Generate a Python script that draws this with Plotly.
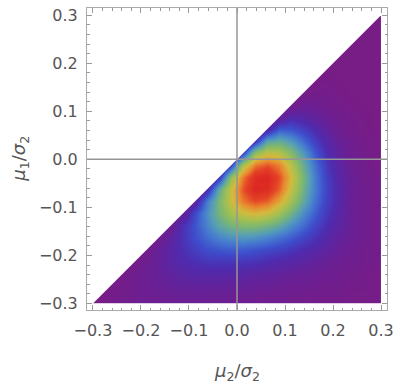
import plotly.graph_objects as go

# ── Data ──────────────────────────────────────────────────────────────────────
# cell edges of the density grid (mu2/sigma2 across, mu1/sigma2 up)
MU2_EDGES = [-0.3, -0.275, -0.25, -0.225, -0.2, -0.175, -0.15, -0.125, -0.1,
             -0.075, -0.05, -0.025, 0.0, 0.025, 0.05, 0.075, 0.1, 0.125,
             0.15, 0.175, 0.2, 0.225, 0.25, 0.275, 0.3]
MU1_EDGES = list(MU2_EDGES)

# density in % of the peak, one row per mu1 cell (bottom row first);
# zero above the diagonal mu1 = mu2
DENSITY = [
    [0, 2, 3, 4, 5, 5, 6, 6, 6, 6, 6, 5, 5, 5, 4, 4, 3, 3, 2, 2, 2, 1, 1, 1],
    [0, 1, 2, 4, 5, 7, 8, 9, 9, 9, 9, 8, 8, 7, 7, 6, 5, 5, 4, 3, 3, 2, 2, 1],
    [0, 0, 1, 4, 6, 8, 10, 12, 13, 13, 13, 13, 12, 11, 10, 9, 8, 7, 6, 5, 4, 3, 2, 1],
    [0, 0, 0, 1, 5, 8, 12, 15, 17, 19, 19, 19, 19, 18, 16, 14, 13, 11, 9, 7, 5, 4, 3, 2],
    [0, 0, 0, 0, 2, 8, 12, 17, 21, 25, 27, 28, 28, 26, 24, 22, 19, 16, 13, 10, 7, 5, 3, 2],
    [0, 0, 0, 0, 0, 3, 11, 18, 25, 31, 36, 39, 40, 39, 36, 32, 28, 23, 18, 13, 9, 6, 4, 2],
    [0, 0, 0, 0, 0, 0, 5, 17, 26, 36, 45, 51, 54, 54, 51, 46, 38, 31, 23, 16, 11, 7, 4, 2],
    [0, 0, 0, 0, 0, 0, 0, 7, 24, 38, 51, 62, 69, 72, 69, 61, 50, 38, 28, 19, 12, 7, 4, 2],
    [0, 0, 0, 0, 0, 0, 0, 0, 10, 34, 52, 69, 82, 88, 85, 75, 61, 46, 32, 21, 13, 7, 4, 2],
    [0, 0, 0, 0, 0, 0, 0, 0, 0, 14, 46, 69, 87, 98, 96, 85, 68, 50, 34, 22, 13, 7, 4, 2],
    [0, 0, 0, 0, 0, 0, 0, 0, 0, 0, 18, 58, 82, 96, 98, 88, 71, 52, 34, 21, 12, 7, 3, 2],
    [0, 0, 0, 0, 0, 0, 0, 0, 0, 0, 0, 22, 64, 82, 87, 81, 66, 48, 32, 19, 11, 6, 3, 1],
    [0, 0, 0, 0, 0, 0, 0, 0, 0, 0, 0, 0, 22, 58, 68, 66, 55, 41, 27, 16, 9, 5, 2, 1],
    [0, 0, 0, 0, 0, 0, 0, 0, 0, 0, 0, 0, 0, 18, 44, 47, 41, 31, 21, 13, 7, 4, 2, 1],
    [0, 0, 0, 0, 0, 0, 0, 0, 0, 0, 0, 0, 0, 0, 12, 27, 26, 21, 15, 9, 5, 2, 1, 0],
    [0, 0, 0, 0, 0, 0, 0, 0, 0, 0, 0, 0, 0, 0, 0, 7, 14, 12, 9, 6, 3, 2, 1, 0],
    [0, 0, 0, 0, 0, 0, 0, 0, 0, 0, 0, 0, 0, 0, 0, 0, 3, 6, 5, 3, 2, 1, 0, 0],
    [0, 0, 0, 0, 0, 0, 0, 0, 0, 0, 0, 0, 0, 0, 0, 0, 0, 1, 2, 2, 1, 0, 0, 0],
    [0, 0, 0, 0, 0, 0, 0, 0, 0, 0, 0, 0, 0, 0, 0, 0, 0, 0, 0, 1, 0, 0, 0, 0],
    [0, 0, 0, 0, 0, 0, 0, 0, 0, 0, 0, 0, 0, 0, 0, 0, 0, 0, 0, 0, 0, 0, 0, 0],
    [0, 0, 0, 0, 0, 0, 0, 0, 0, 0, 0, 0, 0, 0, 0, 0, 0, 0, 0, 0, 0, 0, 0, 0],
    [0, 0, 0, 0, 0, 0, 0, 0, 0, 0, 0, 0, 0, 0, 0, 0, 0, 0, 0, 0, 0, 0, 0, 0],
    [0, 0, 0, 0, 0, 0, 0, 0, 0, 0, 0, 0, 0, 0, 0, 0, 0, 0, 0, 0, 0, 0, 0, 0],
    [0, 0, 0, 0, 0, 0, 0, 0, 0, 0, 0, 0, 0, 0, 0, 0, 0, 0, 0, 0, 0, 0, 0, 0],
]

TICK_VALUES = [-0.3, -0.2, -0.1, 0.0, 0.1, 0.2, 0.3]
TICK_LABELS = ["\u22120.3", "\u22120.2", "\u22120.1", "0.0", "0.1", "0.2", "0.3"]

# ── Style ─────────────────────────────────────────────────────────────────────
RAINBOW = [
    [0.00, "rgb(120,28,134)"],
    [0.07, "rgb(104,32,150)"],
    [0.16, "rgb(78,44,176)"],
    [0.25, "rgb(62,78,204)"],
    [0.34, "rgb(70,124,208)"],
    [0.42, "rgb(86,158,182)"],
    [0.52, "rgb(122,182,116)"],
    [0.62, "rgb(166,192,80)"],
    [0.71, "rgb(212,186,62)"],
    [0.80, "rgb(234,136,48)"],
    [0.89, "rgb(228,66,38)"],
    [1.00, "rgb(218,33,33)"],
]
TICK_COLOR = "#9a9a9a"
FRAME_COLOR = "#aaaaaa"
LABEL_COLOR = "#555555"
AXIS_LINE = "rgb(150,150,150)"
FONT = "DejaVu Sans"

lo, hi = MU2_EDGES[0], MU2_EDGES[-1]
bleed = 0.002   # mask slightly past the grid so no edge pixels leak through

fig = go.Figure(go.Heatmap(
    x=MU2_EDGES, y=MU1_EDGES, z=DENSITY,
    zmin=0, zmax=100, zsmooth="best",
    colorscale=RAINBOW, showscale=False, hoverinfo="skip",
))

# region mu1 > mu2 is left blank
fig.add_shape(
    type="path",
    path=(f"M {lo},{lo} L {hi},{hi} L {hi},{hi + bleed} "
          f"L {lo - bleed},{hi + bleed} L {lo - bleed},{lo} Z"),
    xref="x", yref="y", fillcolor="white", line=dict(width=0), layer="above",
)
# axes through the origin
fig.add_shape(type="line", x0=0, x1=0, y0=0, y1=1, xref="x", yref="paper",
              line=dict(color=AXIS_LINE, width=1.5), layer="above")
fig.add_shape(type="line", x0=0, x1=1, y0=0, y1=0, xref="paper", yref="y",
              line=dict(color=AXIS_LINE, width=1.5), layer="above")

axis_style = dict(
    tickvals=TICK_VALUES, ticktext=TICK_LABELS,
    ticks="inside", ticklen=5, tickwidth=1, tickcolor=TICK_COLOR,
    minor=dict(ticks="inside", dtick=0.02, tick0=0, ticklen=2.5,
               tickcolor=TICK_COLOR, showgrid=False),
    showline=True, linecolor=FRAME_COLOR, linewidth=1, mirror="allticks",
    showgrid=False, zeroline=False,
    tickfont=dict(family=FONT, size=16, color=LABEL_COLOR),
)
fig.update_xaxes(range=[-0.3124, 0.3124], ticklabelstandoff=6, **axis_style)
fig.update_yaxes(range=[-0.3135, 0.315], ticklabelstandoff=5, **axis_style)

fig.add_annotation(text="<i>μ</i><sub>2</sub>/<i>σ</i><sub>2</sub>",
                   xref="paper", yref="paper", x=0.5, y=-0.204,
                   showarrow=False, yanchor="middle",
                   font=dict(family=FONT, size=18, color=LABEL_COLOR))
fig.add_annotation(text="<i>μ</i><sub>1</sub>/<i>σ</i><sub>2</sub>",
                   xref="paper", yref="paper", x=-0.224, y=0.5,
                   showarrow=False, textangle=-90, xanchor="center",
                   font=dict(family=FONT, size=18, color=LABEL_COLOR))

fig.update_layout(
    width=400, height=386,
    margin=dict(l=87, r=10, t=6, b=76),
    plot_bgcolor="white", paper_bgcolor="white",
    showlegend=False,
)

# the page's default body margin would push the figure 8px off the window
fig.write_html("out.html", config={"displayModeBar": False},
               post_script="document.body.style.margin = '0';")
